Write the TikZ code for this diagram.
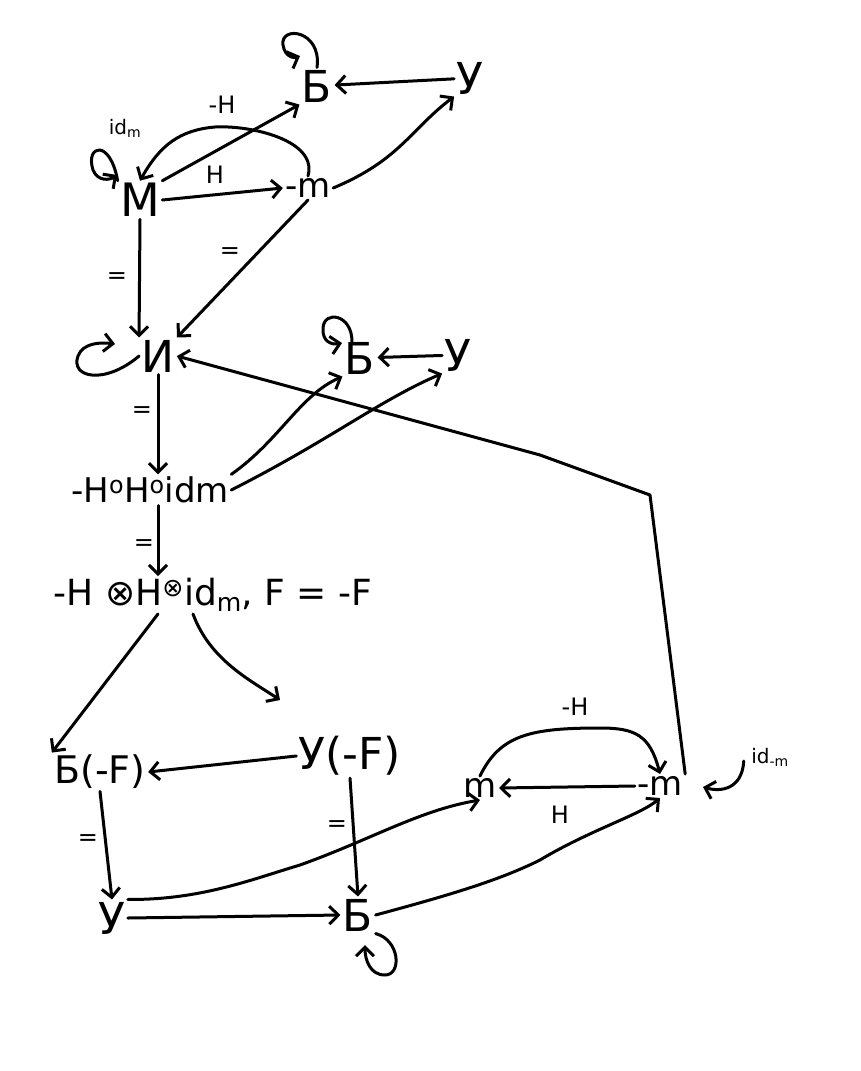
\documentclass[tikz,border=0pt]{standalone}
\usepackage{fontspec}
\setmainfont{DejaVu Sans}
\usetikzlibrary{arrows.meta}
\begin{document}
\begin{tikzpicture}[x=1pt,y=-1pt, line width=3pt, line cap=round, line join=round,
  ar/.style={-{Straight Barb[length=9pt,width=18pt,line width=3pt]}},
  lab/.style={font=\fontsize{24}{24}\selectfont, inner sep=0pt},
  sml/.style={font=\fontsize{20}{20}\selectfont, inner sep=0pt},
  huge/.style={font=\fontsize{46}{46}\selectfont, inner sep=1pt},
  big/.style={font=\fontsize{44}{44}\selectfont, inner sep=1pt},
  bf/.style={font=\fontsize{38}{38}\selectfont, inner sep=1pt},
  txt/.style={font=\fontsize{34}{34}\selectfont, inner sep=1pt},
  txb/.style={font=\fontsize{36}{36}\selectfont, inner sep=1pt}]
\useasboundingbox[fill=white] (0,0) rectangle (861,1071);

% top group
\node[big] (B1) at (317,86) {Б};
\node[big] (U1) at (470,78) {У};
\node[huge] (M1) at (140,200) {M};
\node[txt] (mM1) at (308,188) {-m};
\node[sml] (idm1) at (125,128) {id\textsubscript{m}};

% middle group
\node[big] (I) at (158,356) {И};
\node[big] (B2) at (360,358) {Б};
\node[big] (U2) at (458,355) {У};
\node[txt] (HH) at (150,490) {-H\textsuperscript{o}H\textsuperscript{o}idm};
\node[txb] (HT) at (213,595) {-H ⊗H\textsuperscript{⊗}id\textsubscript{m}, F = -F};

% bottom group
\node[bf] (BF) at (100,772) {Б(-F)};
\node[big] (UF) at (350,756) {У(-F)};
\node[big] (U3) at (112,918) {У};
\node[big] (B3) at (358,915) {Б};
\node[txt] (m2) at (480,788) {m};
\node[txt] (mm2) at (660,786) {-m};
\node[sml] (idmm) at (770,757) {id\textsubscript{-m}};

% labels
\node[lab] at (222,105) {-H};
\node[lab] at (215,175) {H};
\node[lab] at (117,278) {=};
\node[lab] at (230,253) {=};
\node[lab] at (142,412) {=};
\node[lab] at (144,545) {=};
\node[lab] at (88,840) {=};
\node[lab] at (337,826) {=};
\node[lab] at (575,707) {-H};
\node[lab] at (560,815) {H};

% top edges
\draw[ar] (U1) -- (B1);
\draw[ar] (M1.north east) -- (B1.south west);
\draw[ar] (mM1.north) .. controls (318,140) and (250,125) .. (215,127) .. controls (180,130) and (160,145) .. (M1.north);
\draw[ar] (M1.east) -- (mM1.west);
\draw[ar] (mM1.east) .. controls (400,160) and (410,130) .. (U1.south west);
\draw[ar] (M1.south) -- (I.north west);
\draw[ar] (mM1.south) -- (I.north east);
% loops
\draw[ar] (B1.north) .. controls (322,30) and (280,25) .. (283,45) .. controls (285,58) and (295,58) .. (300,56);
\draw[ar] (M1.north west) .. controls (110,138) and (85,145) .. (93,170) .. controls (98,182) and (110,180) .. (117,175);
\draw[ar] (I.west) .. controls (105,385) and (70,378) .. (78,356) .. controls (83,343) and (100,342) .. (115,344);
\draw[ar] ([xshift=-8pt,yshift=-2pt]B2.north) .. controls (352,314) and (324,310) .. (323,328) .. controls (322,342) and (332,345) .. (342,343);

% middle edges
\draw[ar] (U2) -- (B2);
\draw[ar] (I.south) -- (I.south |- HH.north);
\draw[ar] (HH.north east) .. controls (280,440) and (300,395) .. (B2.south west);
\draw[ar] (HH.east) .. controls (330,440) and (380,400) .. (U2.south west);
\draw[ar] ([xshift=8pt]HH.south) -- ([xshift=8pt]HH.south |- HT.north);
\draw[ar] (mm2.north east) -- (650,495) -- (540,455) -- (I.east);

% lower edges
\draw[ar] ([xshift=-55pt]HT.south) -- (BF.north west);
\draw[ar] ([xshift=-20pt]HT.south) .. controls (210,660) and (250,680) .. (280,700);
\draw[ar] (UF.west) -- (BF.east);
\draw[ar] (BF.south) -- (U3.north);
\draw[ar] (UF.south) -- (B3.north);
\draw[ar] (U3.east) -- (B3.west);
\draw[ar] (U3.north east) .. controls (200,900) and (250,880) .. (300,865) .. controls (370,840) and (420,810) .. (m2.south);
\draw[ar] (B3.east) .. controls (450,895) and (500,880) .. (540,860) .. controls (590,830) and (640,815) .. (mm2.south);
\draw[ar] (mm2.west) -- (m2.east);
\draw[ar] (m2.north) .. controls (500,735) and (530,728) .. (600,728) .. controls (635,728) and (650,735) .. (mm2.north);
\draw[ar] (B3.south east) .. controls (400,940) and (402,975) .. (385,975) .. controls (370,975) and (365,960) .. (365,945);
\draw[ar] ([xshift=-6pt,yshift=-4pt]idmm.west) .. controls (742,790) and (720,792) .. (703,787);
\end{tikzpicture}
\end{document}
